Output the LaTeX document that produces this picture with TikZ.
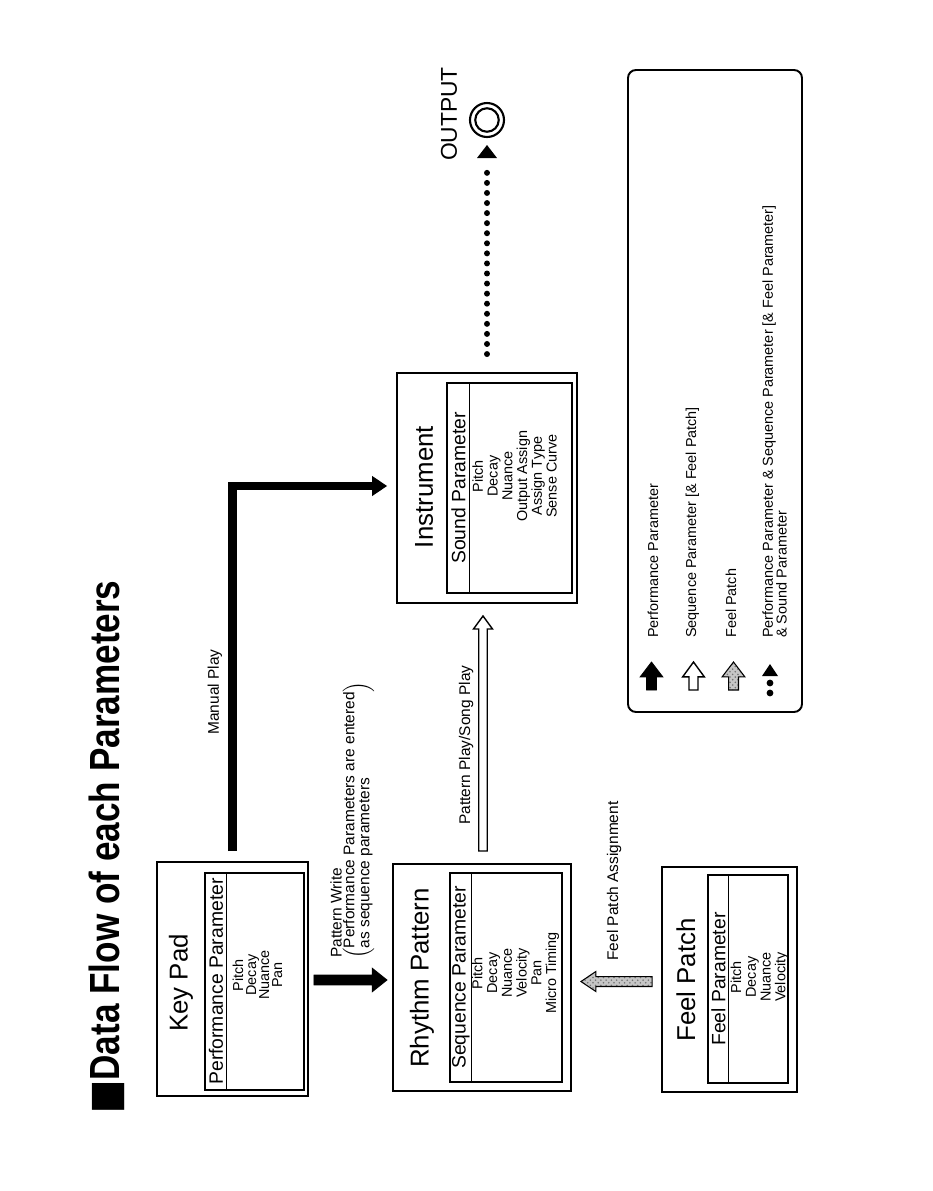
\documentclass[tikz,border=0pt]{standalone}
\usepackage{fontspec}
\setmainfont{Liberation Sans}
\newfontfamily\symfont{DejaVu Sans}
\usetikzlibrary{calc,fit,arrows.meta,patterns}
% block arrow: #1 style, #2 start, #3 tip, #4 half shaft, #5 half head, #6 head length
\newcommand\blockarr[6]{%
  \coordinate (ban) at ($(#3)!#6!(#2)$);
  \draw[#1] ($(#2)!#4!90:(#3)$) -- ($(ban)!#4!-90:(#2)$) -- ($(ban)!#5!-90:(#2)$) -- (#3)
    -- ($(ban)!#5!90:(#2)$) -- ($(ban)!#4!90:(#2)$) -- ($(#2)!#4!-90:(#3)$) -- cycle;}
\tikzset{
  outerbox/.style={draw, line width=1.1pt, inner sep=0pt},
  innerbox/.style={draw, line width=0.8pt, inner sep=0pt},
  rot/.style={rotate=90, inner sep=0pt},
  boxtitle/.style={rot, font=\fontsize{14.7}{16}\selectfont},
  hdr/.style={rot, font=\fontsize{11}{12}\selectfont},
  itemlist/.style={rot, align=center, font=\fontsize{8.2}{8.4}\selectfont},
  lbl/.style={rot, font=\fontsize{8.8}{8.5}\selectfont},
  legtxt/.style={rot, align=left, font=\fontsize{8.2}{7.9}\selectfont},
  blackfill/.style={fill=black, draw=black, line width=0.4pt, line join=miter},
  whitefill/.style={fill=white, draw=black, line width=0.8pt, line join=miter},
  grayfill/.style={draw=black, line width=0.6pt, line join=miter, preaction={fill=gray!45}, pattern=crosshatch dots, pattern color=black!55},
  thickarrow/.style={line width=5.1pt, line join=miter, -{Triangle[length=8.5pt,width=11.5pt,line width=0pt]}},
  dotline/.style={line width=3.4pt, line cap=round, dash pattern=on 0pt off 5.73pt},
}
\begin{document}
\begin{tikzpicture}[x=0.02cm,y=-0.02cm]
\fill[white] (0,0) rectangle (933,1191);
\useasboundingbox (0,0) rectangle (933,1191);

% title
\node[rot, font=\fontsize{20}{20}\selectfont\bfseries] (title) at (107,847)
  {\scalebox{1}[1.2]{{\symfont ■}Data Flow of each Parameters}};

% Key Pad
\node[outerbox, fit={(157,862) (308,1096)}] (kp) {};
\node[innerbox, fit={(205,873) (304,1090)}] (kpin) {};
\draw[line width=0.8pt] ($(kpin.north west)+(22,0)$) -- ($(kpin.south west)+(22,0)$);
\node[boxtitle] (kpt) at (181,983) {Key Pad};
\node[hdr] (kph) at (216,981.5) {Performance Parameter};
\node[itemlist, font=\fontsize{8.2}{7.4}\selectfont] (kpi) at (257.5,975) {Pitch\\Decay\\Nuance\\Pan};

% Rhythm Pattern
\node[outerbox, fit={(393,864) (571,1091)}] (rp) {};
\node[innerbox, fit={(450,873) (562,1082)}] (rpin) {};
\draw[line width=0.8pt] ($(rpin.north west)+(22,0)$) -- ($(rpin.south west)+(22,0)$);
\node[boxtitle] (rpt) at (422,978) {Rhythm Pattern};
\node[hdr] (rph) at (461,977.5) {Sequence Parameter};
\node[itemlist] (rpi) at (515.5,973) {Pitch\\Decay\\Nuance\\Velocity\\Pan\\Micro Timing};

% Instrument
\node[outerbox, fit={(397,373) (577,603)}] (ins) {};
\node[innerbox, fit={(447,383) (572,593)}] (insin) {};
\draw[line width=0.8pt] ($(insin.north west)+(23,0)$) -- ($(insin.south west)+(23,0)$);
\node[boxtitle] (inst) at (424,487) {Instrument};
\node[hdr] (insh) at (458.5,488) {Sound Parameter};
\node[itemlist] (insi) at (514.5,476) {Pitch\\Decay\\Nuance\\Output Assign\\Assign Type\\Sense Curve};

% Feel Patch
\node[outerbox, fit={(662,867) (797,1092)}] (fp) {};
\node[innerbox, fit={(708,875) (788,1083)}] (fpin) {};
\draw[line width=0.8pt] ($(fpin.north west)+(21,0)$) -- ($(fpin.south west)+(21,0)$);
\node[boxtitle] (fpt) at (686,980) {Feel Patch};
\node[hdr] (fph) at (718.5,979) {Feel Parameter};
\node[itemlist] (fpi) at (759.5,977) {Pitch\\Decay\\Nuance\\Velocity};

% Output
\node[circle, draw, line width=1.2pt, minimum size=0.68cm, inner sep=0pt] (out) at (487,120) {};
\node[circle, draw, line width=1.2pt, minimum size=0.47cm, inner sep=0pt] (outin) at (out) {};
\node[rot, font=\fontsize{13}{14}\selectfont] (outt) at (449,114) {OUTPUT};

% connectors
\coordinate (a1) at ($(kp.east)+(5,1)$);
\coordinate (b1) at ($(rp.west |- a1)+(-5,0)$);
\blockarr{blackfill}{a1}{b1}{2.83pt}{6.8pt}{8.5pt}

\draw[thickarrow] ($(kp.north)+(0,-10)$) |- ($(ins.west)+(-9,-2)$);

\coordinate (a3) at ($(rp.north)+(1,-12)$);
\coordinate (b3) at ($(a3 |- ins.south)+(0,12)$);
\blockarr{whitefill}{a3}{b3}{2.4pt}{5.4pt}{7.4pt}

\coordinate (a4) at ($(fp.west)+(-9,2)$);
\coordinate (b4) at ($(rp.east |- a4)+(9,0)$);
\blockarr{grayfill}{a4}{b4}{2.83pt}{5.7pt}{8.5pt}

\coordinate (a5) at ($(ins.north)+(0,-18)$);
\coordinate (tip5) at ($(out.center)+(0,25)$);
\coordinate (d5) at ($(tip5)+(0,18)$);
\draw[dotline] (a5) -- (d5);
\fill (tip5) -- ($(tip5)+(-10,13)$) -- ($(tip5)+(10,13)$) -- cycle;

% labels
\node[lbl] (mpl) at (215,692) {Manual Play};
\node[lbl, anchor=north west] (pwl) at (330,958) {Pattern Write};
\node[lbl, anchor=west] (pwl2) at (358.5,959) {$\left(\begin{tabular}{@{}l@{}}Performance Parameters are entered\\as sequence parameters\end{tabular}\right)$};
\node[lbl] (ppl) at (466,745) {Pattern Play/Song Play};
\node[lbl] (fpl) at (614,881) {Feel Patch Assignment};

% legend
\node[draw, line width=1.1pt, rounded corners=0.16cm, inner sep=0pt, fit={(628,70) (802,712)}] (leg) {};
\coordinate (l1a) at (651.5,690); \coordinate (l1b) at (651.5,662);
\blockarr{blackfill}{l1a}{l1b}{2.83pt}{6.5pt}{8.5pt}
\coordinate (l2a) at (693.5,690); \coordinate (l2b) at (693.5,662);
\blockarr{whitefill}{l2a}{l2b}{2.55pt}{6.2pt}{8.5pt}
\coordinate (l3a) at (733.5,690); \coordinate (l3b) at (733.5,662);
\blockarr{grayfill}{l3a}{l3b}{2.83pt}{6.5pt}{8.5pt}
\fill (770,664) -- (762,676) -- (778,676) -- cycle;
\fill (770,683) circle[radius=0.068cm];
\fill (770,693) circle[radius=0.068cm];
\node[legtxt, anchor=base west] (lt1) at (658,638) {Performance Parameter};
\node[legtxt, anchor=base west] (lt2) at (696,638) {Sequence Parameter [\& Feel Patch]};
\node[legtxt, anchor=base west] (lt3) at (736,638) {Feel Patch};
\node[legtxt, anchor=north west] (lt4) at (762,638) {Performance Parameter \& Sequence Parameter [\& Feel Parameter]\\\& Sound Parameter};
\end{tikzpicture}
\end{document}
